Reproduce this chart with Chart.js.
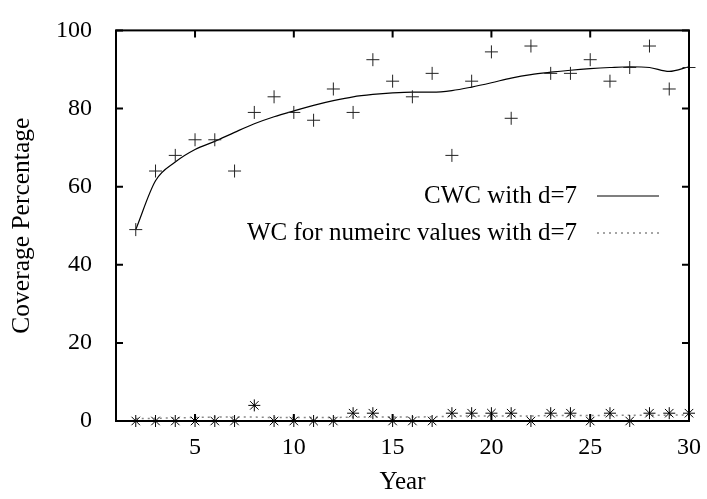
<!DOCTYPE html>
<html>
<head>
<meta charset="utf-8">
<script src="https://cdn.jsdelivr.net/npm/chart.js@4.4.0/dist/chart.umd.min.js"></script>
<style>
html, body { margin: 0; padding: 0; background: #fff; }
</style>
</head>
<body>
<canvas id="myChart" width="707" height="499"></canvas>
<script>
const years = [2, 3, 4, 5, 6, 7, 8, 9, 10, 11, 12, 13, 14, 15, 16, 17, 18, 19, 20, 21, 22, 23, 24, 25, 26, 27, 28, 29, 30];
const cwcPoints = [49, 64, 68, 72, 72, 64, 79, 83, 79, 77, 85, 79, 92.5, 87, 83, 89, 68, 87, 94.5, 77.5, 96, 89, 89, 92.5, 87, 90.5, 96, 85, 90.5];
const cwcCurve = [49, 61.5, 66.3, 69.5, 71.6, 73.9, 76.1, 77.9, 79.4, 80.8, 82, 83, 83.6, 84, 84.2, 84.2, 84.6, 85.5, 86.6, 87.8, 88.7, 89.3, 89.8, 90.2, 90.5, 90.7, 90.5, 89.5, 90.7];
const wcPoints = [0, 0, 0, 0, 0, 0, 4, 0, 0, 0, 0, 2, 2, 0, 0, 0, 2, 2, 2, 2, 0, 2, 2, 0, 2, 0, 2, 2, 2];
const wcCurve = [0.6, 0.7, 0.8, 0.9, 1, 1, 1, 0.9, 0.9, 0.9, 0.9, 1, 1, 1, 1, 1.1, 1.2, 1.3, 1.3, 1.3, 1.3, 1.4, 1.4, 1.4, 1.4, 1.5, 1.5, 1.5, 1.6];
const xTicks = [5, 10, 15, 20, 25, 30];
const yTicks = [0, 20, 40, 60, 80, 100];

function toXY(vals) {
    return years.map((x, i) => ({ x: x, y: vals[i] }));
}

const serif = "'Liberation Serif', 'Times New Roman', serif";
Chart.defaults.font.family = serif;
Chart.defaults.font.size = 24;
Chart.defaults.color = '#000';

// box frame with inward ticks, gnuplot style
const framePlugin = {
    id: 'frame',
    afterDraw(chart) {
        const ctx = chart.ctx;
        const a = chart.chartArea;
        const xs = chart.scales.x, ys = chart.scales.y;
        ctx.save();
        ctx.strokeStyle = '#000';
        ctx.lineWidth = 2;
        ctx.strokeRect(a.left, a.top, a.right - a.left, a.bottom - a.top);
        ctx.beginPath();
        xTicks.forEach(v => {
            const px = xs.getPixelForValue(v);
            ctx.moveTo(px, a.bottom); ctx.lineTo(px, a.bottom - 7);
            ctx.moveTo(px, a.top); ctx.lineTo(px, a.top + 7);
        });
        yTicks.forEach(v => {
            const py = ys.getPixelForValue(v);
            ctx.moveTo(a.left, py); ctx.lineTo(a.left + 7, py);
            ctx.moveTo(a.right, py); ctx.lineTo(a.right - 7, py);
        });
        ctx.stroke();
        ctx.restore();
    }
};

// key inside the plot, text right aligned with line sample after it
const keyPlugin = {
    id: 'key',
    afterDraw(chart) {
        const ctx = chart.ctx;
        const items = chart.data.datasets.filter(d => d.label);
        ctx.save();
        ctx.font = "25px " + serif;
        ctx.textAlign = 'right';
        ctx.textBaseline = 'middle';
        items.forEach((d, i) => {
            const y = 196 + i * 37;
            ctx.fillStyle = '#000';
            ctx.fillText(d.label, 577, y);
            ctx.beginPath();
            ctx.strokeStyle = d.borderColor;
            ctx.lineWidth = d.borderWidth;
            ctx.setLineDash(d.borderDash || []);
            ctx.moveTo(597, y);
            ctx.lineTo(659, y);
            ctx.stroke();
        });
        ctx.restore();
    }
};

const data = {
    datasets: [
        {
            data: toXY(cwcPoints),
            showLine: false,
            pointStyle: 'cross',
            pointRadius: 6.5,
            pointBorderWidth: 1,
            borderColor: '#222',
            clip: false
        },
        {
            label: 'CWC with d=7',
            data: toXY(cwcCurve),
            showLine: true,
            pointRadius: 0,
            borderColor: '#000',
            borderWidth: 1.2,
            cubicInterpolationMode: 'monotone',
            clip: false
        },
        {
            data: toXY(wcPoints),
            showLine: false,
            pointStyle: 'star',
            pointRadius: 6,
            pointBorderWidth: 1,
            borderColor: '#000',
            clip: false
        },
        {
            label: 'WC for numeirc values with d=7',
            data: toXY(wcCurve),
            showLine: true,
            pointRadius: 0,
            borderColor: '#888',
            borderWidth: 1.5,
            borderDash: [2, 4],
            cubicInterpolationMode: 'monotone',
            clip: false
        }
    ]
};

const config = {
    type: 'scatter',
    data: data,
    options: {
        responsive: false,
        animation: false,
        layout: { padding: { top: 14, right: 18, left: 0, bottom: 0 } },
        plugins: { legend: { display: false }, tooltip: { enabled: false } },
        scales: {
            x: {
                type: 'linear',
                min: 1,
                max: 30,
                afterBuildTicks: s => { s.ticks = xTicks.map(v => ({ value: v })); },
                afterFit: s => { s.height = 78; },
                grid: { display: false },
                border: { display: false },
                ticks: { padding: 4, maxRotation: 0 },
                title: { display: true, text: 'Year', font: { size: 25 }, padding: { top: 0, bottom: 2 } }
            },
            y: {
                min: 0,
                max: 100,
                afterBuildTicks: s => { s.ticks = yTicks.map(v => ({ value: v })); },
                afterFit: s => { s.width = 116; },
                grid: { display: false },
                border: { display: false },
                ticks: { padding: 16 },
                title: { display: true, text: 'Coverage Percentage', font: { size: 25.5 }, padding: { top: 7, bottom: 0 } }
            }
        }
    },
    plugins: [framePlugin, keyPlugin]
};

const myChart = new Chart(document.getElementById('myChart'), config);
</script>
</body>
</html>
